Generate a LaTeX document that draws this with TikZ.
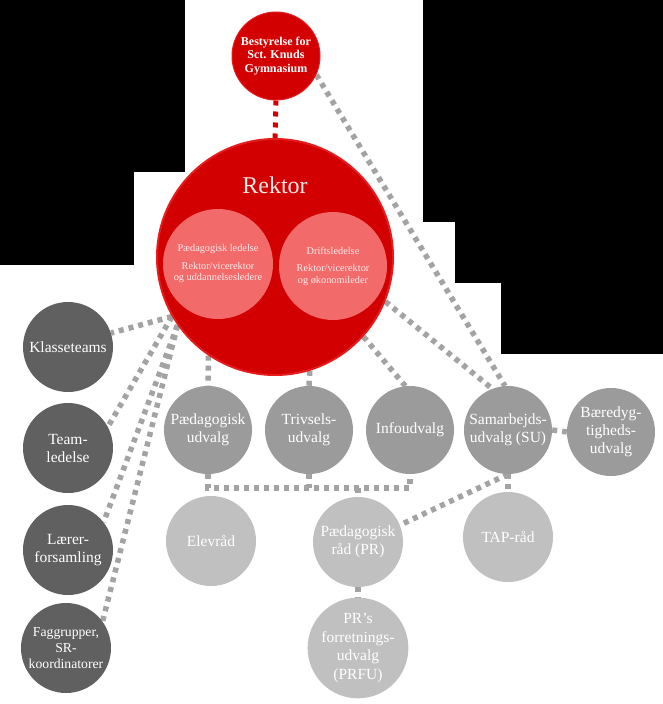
\documentclass[tikz,border=0pt]{standalone}
\usepackage{fontspec}
\setmainfont{Liberation Serif}
\usetikzlibrary{backgrounds}
\definecolor{rred}{RGB}{210,0,0}
\definecolor{rring}{RGB}{230,28,28}
\definecolor{rpink}{RGB}{242,106,106}
\definecolor{rtext}{RGB}{255,236,236}
\definecolor{gdark}{RGB}{96,96,96}
\definecolor{gmid}{RGB}{155,155,155}
\definecolor{glight}{RGB}{192,192,192}
\definecolor{gline}{RGB}{163,163,163}
\begin{document}
\begin{tikzpicture}[x=1pt,y=-1pt,
  bubble/.style={circle, inner sep=0pt, minimum size=#1, align=center, text=white},
  darkc/.style={bubble=90pt, fill=gdark, font=\fontsize{15.5}{18}\selectfont},
  midc/.style={bubble=88pt, fill=gmid, font=\fontsize{15.5}{18}\selectfont},
  lightc/.style={bubble=90pt, fill=glight, font=\fontsize{15.5}{18.5}\selectfont},
  innerc/.style={bubble=#1, fill=rpink, text=rtext, font=\fontsize{10.3}{11.5}\selectfont},
  link/.style={draw=gline, line width=5.5pt, dash pattern=on 5pt off 5pt},
  redlink/.style={draw=rred, line width=5pt, dash pattern=on 5pt off 6pt}]
\useasboundingbox (0,0) rectangle (663,704);

% nodes
\node[bubble=88pt, fill=rred, draw=rring, line width=1pt, font=\bfseries\fontsize{12}{13.5}\selectfont] (best) at (276,56) {Bestyrelse for\\Sct. Knuds\\Gymnasium};
\node[circle, inner sep=0pt, minimum size=236pt, fill=rred, draw=rring, line width=2pt] (rektor) at (275,257) {};
\node[text=rtext, font=\fontsize{24}{28}\selectfont] (rlabel) at (275,185) {Rektor};
\node[innerc=110pt] (paedl) at (218,264) {Pædagogisk ledelse\\[6pt]Rektor/vicerektor\\og uddannelsesledere};
\node[innerc=108pt] (drift) at (333,266) {Driftsledelse\\[6pt]Rektor/vicerektor\\og økonomileder};

\node[darkc] (klasse) at (68,347) {Klasseteams};
\node[darkc] (team) at (68,448) {Team-\\ledelse};
\node[darkc] (laerer) at (68,550) {Lærer-\\forsamling};
\node[darkc, font=\fontsize{13.7}{16}\selectfont] (fag) at (66,648) {Faggrupper,\\SR-\\koordinatorer};

\node[midc] (pu) at (208,430) {Pædagogisk\\udvalg};
\node[midc] (triv) at (309,430) {Trivsels-\\udvalg};
\node[midc] (info) at (410,430) {Infoudvalg};
\node[midc] (su) at (508,430) {Samarbejds-\\udvalg (SU)};
\node[midc] (baere) at (611,432) {Bæredyg-\\tigheds-\\udvalg};

\node[lightc] (elev) at (211,541) {Elevråd};
\node[lightc] (pr) at (358,542) {Pædagogisk\\råd (PR)};
\node[lightc] (tap) at (508,537) {TAP-råd};
\node[lightc] (prfu) at (358,648) {PR's\\forretnings-\\udvalg\\(PRFU)};

\coordinate (bus) at (0,488);

\begin{scope}[on background layer]
  \fill[white] (0,0) rectangle (663,704);
  \fill[black] (0,0) rectangle (185,172);
  \fill[black] (0,172) rectangle (134,265);
  \fill[black] (423,0) rectangle (663,222);
  \fill[black] (455,222) rectangle (663,283);
  \fill[black] (501,283) rectangle (663,354);

  \draw[redlink] (best.south) -- (rektor.north);
  \draw[link] (best.335) -- (su.94);
  \draw[link] (rektor.338) -- (su.111);
  \draw[link] (rektor.318) -- (info.96);
  \draw[link] (rektor.287) -- (triv.north);
  \draw[link] (rektor.236) -- (pu.north);
  \draw[link] (rektor.210) -- (klasse.18);
  \draw[link] (rektor.210) -- (team.28);
  \draw[link] (rektor.215) -- (laerer.38);
  \draw[link] (rektor.215) -- (fag.36);
  \draw[link] (pu.south) -- (pu.south |- bus) -- (info.south |- bus) -- (info.south);
  \draw[link] (triv.south) -- (triv.south |- bus);
  \draw[link] (pr.north |- bus) -- (pr.north);
  \draw[link] (su.south) -- (pr.22);
  \draw[link] (su.south) -- (tap.north);
  \draw[link] (su.east) -- (baere.west);
  \draw[link] (pr.south) -- (prfu.north);
\end{scope}
\end{tikzpicture}
\end{document}
